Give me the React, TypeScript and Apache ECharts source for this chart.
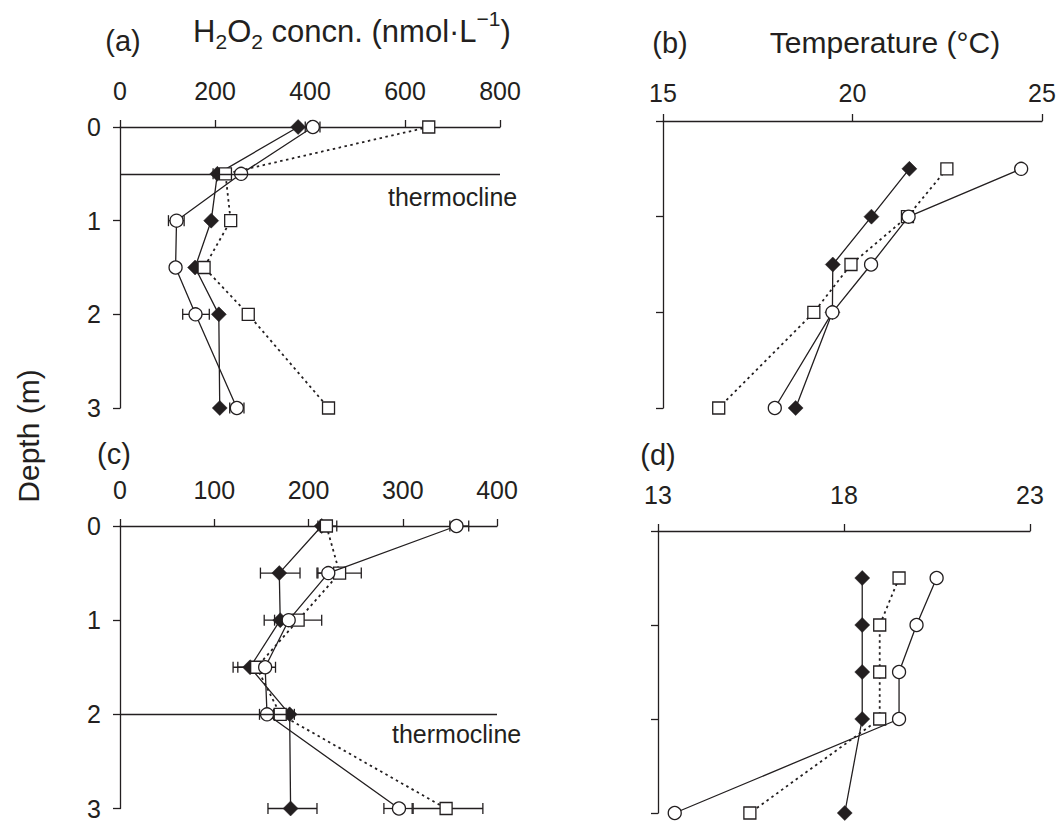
import React, { useEffect, useRef } from "react";
import * as echarts from "echarts";

// ---- data ----
const depthTicks = [0, 1, 2, 3];
const depthsAC = [0, 0.5, 1, 1.5, 2, 3];
const depthsBD = [0.5, 1, 1.5, 2, 3];
const thermoclineA = 0.5;
const thermoclineC = 2;

const aTicks = [0, 200, 400, 600, 800];
const aDiamond = [375, 205, 192, 158, 208, 210];
const aCircle = [406, 255, 119, 117, 159, 246];
const aSquare = [650, 222, 233, 177, 270, 439];
// error bars: [depth, low, high]
const aDiamondErr = [[0.5, 196, 214]];
const aCircleErr = [[0, 390, 421], [1, 102, 135], [2, 132, 188], [3, 231, 261]];
const aSquareErr: number[][] = [];

const bTicks = [15, 20, 25];
const bDiamond = [21.5, 20.5, 19.48, 19.47, 18.5];
const bCircle = [24.45, 21.48, 20.49, 19.47, 17.95];
const bSquare = [22.49, 21.45, 19.96, 18.98, 16.47];

const cTicks = [0, 100, 200, 300, 400];
const cDiamond = [214, 169, 170, 138, 180, 181];
const cCircle = [357, 221, 179, 154, 156, 296];
const cSquare = [219, 233, 189, 145, 170, 346];
const cDiamondErr = [[0.5, 149, 191], [1, 153, 187], [1.5, 120, 156], [2, 175, 185], [3, 157, 209]];
const cCircleErr = [[0, 350, 370], [0.5, 209, 233], [2, 148, 163], [3, 280, 310]];
const cSquareErr = [[0, 210, 230], [0.5, 210, 256], [1, 164, 214], [1.5, 125, 165], [3, 311, 385]];

const dTicks = [13, 18, 23];
const dDiamond = [18.49, 18.49, 18.49, 18.49, 18.02];
const dCircle = [20.49, 19.95, 19.48, 19.48, 13.45];
const dSquare = [19.48, 18.96, 18.96, 18.96, 15.47];

// ---- styling ----
const INK = "#231f20";
const FONT = "'Liberation Sans', Arial, Helvetica, sans-serif";

function xAxisDef(grid: number, ticks: number[], margin: number) {
  return {
    type: "value",
    gridIndex: grid,
    position: "top",
    min: ticks[0],
    max: ticks[ticks.length - 1],
    axisLine: { show: true, lineStyle: { color: INK, width: 1.3 } },
    axisTick: { show: true, length: 7, lineStyle: { color: INK, width: 1.3 }, customValues: ticks },
    axisLabel: { color: INK, fontSize: 25, fontFamily: FONT, margin, customValues: ticks },
    splitLine: { show: false },
  };
}

function yAxisDef(grid: number, showLabels: boolean) {
  return {
    type: "value",
    gridIndex: grid,
    inverse: true,
    min: depthTicks[0],
    max: depthTicks[depthTicks.length - 1],
    axisLine: { show: true, lineStyle: { color: INK, width: 1.3 } },
    axisTick: { show: true, length: 7, lineStyle: { color: INK, width: 1.3 }, customValues: depthTicks },
    axisLabel: { show: showLabels, color: INK, fontSize: 25, fontFamily: FONT, margin: 19, customValues: depthTicks },
    splitLine: { show: false },
  };
}

type Kind = "diamond" | "circle" | "square";

function lineSeries(values: number[], depths: number[], kind: Kind, idx: number, markDepth?: number) {
  const data = values.map((v, i) => [v, depths[i]]);
  const base: any = {
    type: "line",
    xAxisIndex: idx,
    yAxisIndex: idx,
    data,
    silent: true,
    showAllSymbol: true,
    z: kind === "diamond" ? 2 : kind === "square" ? 3 : 4,
    lineStyle:
      kind === "square"
        ? { color: INK, width: 1.8, type: [2.5, 3.5] }
        : { color: INK, width: 1.3, type: "solid" },
    symbol: kind === "diamond" ? "diamond" : kind === "circle" ? "circle" : "rect",
    symbolSize: kind === "diamond" ? 15 : kind === "circle" ? 13 : 12,
    itemStyle:
      kind === "diamond"
        ? { color: INK, borderColor: INK, borderWidth: 0.5 }
        : { color: "#ffffff", borderColor: INK, borderWidth: 1.3 },
  };
  if (markDepth !== undefined) {
    base.markLine = {
      silent: true,
      symbol: ["none", "none"],
      label: { show: false },
      lineStyle: { color: INK, width: 1.3, type: "solid" },
      data: [{ yAxis: markDepth }],
    };
  }
  return base;
}

function errSeries(data: number[][], idx: number) {
  return {
    type: "custom",
    xAxisIndex: idx,
    yAxisIndex: idx,
    silent: true,
    z: 1,
    encode: { x: [1, 2], y: 0 },
    data,
    renderItem: (_params: any, api: any) => {
      const d = api.value(0);
      const lo = api.value(1);
      const hi = api.value(2);
      const p1 = api.coord([lo, d]);
      const p2 = api.coord([hi, d]);
      const h = 5.5;
      const style = { stroke: INK, lineWidth: 1.3 };
      return {
        type: "group",
        children: [
          { type: "line", shape: { x1: p1[0], y1: p1[1], x2: p2[0], y2: p2[1] }, style },
          { type: "line", shape: { x1: p1[0], y1: p1[1] - h, x2: p1[0], y2: p1[1] + h }, style },
          { type: "line", shape: { x1: p2[0], y1: p2[1] - h, x2: p2[0], y2: p2[1] + h }, style },
        ],
      };
    },
  };
}

function txt(text: string, x: number, y: number, size: number, align = "center") {
  return {
    type: "text",
    silent: true,
    style: {
      text,
      x,
      y,
      fill: INK,
      fontSize: size,
      fontFamily: FONT,
      textAlign: align,
      textVerticalAlign: "middle",
    },
  };
}

export default function App() {
  const ref = useRef<HTMLDivElement>(null);
  useEffect(() => {
    if (!ref.current) return;
    const chart = echarts.init(ref.current, undefined, { renderer: "svg" });
    const option: any = {
      animation: false,
      backgroundColor: "#ffffff",
      grid: [
        { left: 120, top: 127, width: 380, height: 281 },
        { left: 663, top: 121, width: 379, height: 287 },
        { left: 120, top: 526, width: 377, height: 283 },
        { left: 658, top: 531, width: 372, height: 282 },
      ],
      xAxis: [
        xAxisDef(0, aTicks, 24),
        xAxisDef(1, bTicks, 16),
        xAxisDef(2, cTicks, 24),
        xAxisDef(3, dTicks, 24),
      ],
      yAxis: [yAxisDef(0, true), yAxisDef(1, false), yAxisDef(2, true), yAxisDef(3, false)],
      series: [
        errSeries(aDiamondErr, 0),
        errSeries(aCircleErr, 0),
        errSeries(aSquareErr, 0),
        lineSeries(aDiamond, depthsAC, "diamond", 0, thermoclineA),
        lineSeries(aSquare, depthsAC, "square", 0),
        lineSeries(aCircle, depthsAC, "circle", 0),

        lineSeries(bDiamond, depthsBD, "diamond", 1),
        lineSeries(bSquare, depthsBD, "square", 1),
        lineSeries(bCircle, depthsBD, "circle", 1),

        errSeries(cDiamondErr, 2),
        errSeries(cCircleErr, 2),
        errSeries(cSquareErr, 2),
        lineSeries(cDiamond, depthsAC, "diamond", 2, thermoclineC),
        lineSeries(cSquare, depthsAC, "square", 2),
        lineSeries(cCircle, depthsAC, "circle", 2),

        lineSeries(dDiamond, depthsBD, "diamond", 3),
        lineSeries(dSquare, depthsBD, "square", 3),
        lineSeries(dCircle, depthsBD, "circle", 3),
      ],
      graphic: [
        txt("(a)", 123, 41, 29),
        {
          type: "text",
          silent: true,
          style: {
            text: "{n|H}{s|2}{n|O}{s|2}{n| concn. (nmol·L}{p|−1}{n|)}",
            x: 352,
            y: 31,
            textAlign: "center",
            textVerticalAlign: "middle",
            fill: INK,
            fontFamily: FONT,
            fontSize: 31,
            rich: {
              n: { fontSize: 31, fontFamily: FONT, fill: INK },
              s: { fontSize: 21, fontFamily: FONT, fill: INK, padding: [20, 0, 0, 0] },
              p: { fontSize: 21, fontFamily: FONT, fill: INK, padding: [0, 0, 26, 0] },
            },
          },
        },
        txt("(b)", 670, 43, 29),
        txt("Temperature (°C)", 885, 42, 30),
        txt("(c)", 114, 454, 29),
        txt("(d)", 658, 455, 29),
        txt("thermocline", 388, 197, 25, "left"),
        txt("thermocline", 392, 734, 25, "left"),
        {
          type: "text",
          silent: true,
          x: 28,
          y: 436,
          rotation: Math.PI / 2,
          style: {
            text: "Depth (m)",
            x: 0,
            y: 0,
            fill: INK,
            fontSize: 30,
            fontFamily: FONT,
            textAlign: "center",
            textVerticalAlign: "middle",
          },
        },
      ],
    };
    chart.setOption(option);
    return () => chart.dispose();
  }, []);
  return (
    <div
      ref={ref}
      style={{ position: "absolute", left: 0, top: 0, width: 1060, height: 821, background: "#fff" }}
    />
  );
}
